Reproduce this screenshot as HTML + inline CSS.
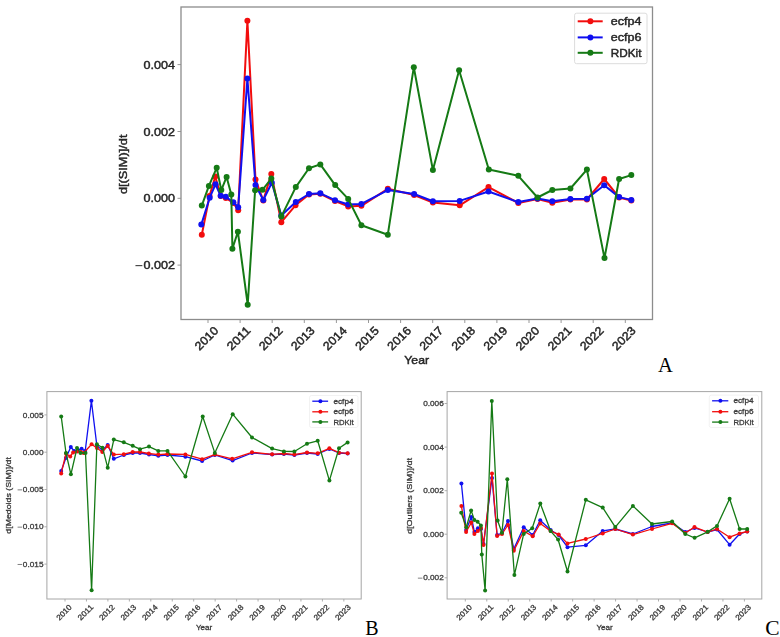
<!DOCTYPE html>
<html><head><meta charset="utf-8"><title>d[SIM]/dt</title>
<style>html,body{margin:0;padding:0;background:#fff;}body{width:780px;height:637px;overflow:hidden;}svg{display:block;font-family:"Liberation Sans",sans-serif;filter:blur(0.35px);}.ta{filter:url(#fA);}.tb{filter:url(#fB);}.ta text,.ta .mn{fill:#262626;stroke:#262626;stroke-width:0.45px;}.ta .mn{stroke-width:1px;}.tb text,.tb .mn{fill:#3a3a3a;stroke:#3a3a3a;stroke-width:0.3px;}.tb .mn{stroke-width:0.7px;}.serif{font-family:"Liberation Serif",serif;fill:#000;}</style></head><body>
<svg width="780" height="637" viewBox="0 0 780 637">
<defs><filter id="fA" x="-5%" y="-5%" width="110%" height="110%"><feGaussianBlur stdDeviation="0.3"/></filter><filter id="fB" x="-5%" y="-5%" width="110%" height="110%"><feGaussianBlur stdDeviation="0.45"/></filter></defs>
<rect width="780" height="637" fill="#fff"/>
<g class="ta">
<line x1="177.5" y1="64.6" x2="181" y2="64.6" style="stroke:#999;stroke-width:1px"/>
<text x="175.03" y="68.61" font-size="11.66" textLength="31.49" lengthAdjust="spacingAndGlyphs" text-anchor="end">0.004</text>
<line x1="177.5" y1="131.5" x2="181" y2="131.5" style="stroke:#999;stroke-width:1px"/>
<text x="175.03" y="135.51" font-size="11.66" textLength="31.49" lengthAdjust="spacingAndGlyphs" text-anchor="end">0.002</text>
<line x1="177.5" y1="198.3" x2="181" y2="198.3" style="stroke:#999;stroke-width:1px"/>
<text x="175.03" y="202.31" font-size="11.66" textLength="31.49" lengthAdjust="spacingAndGlyphs" text-anchor="end">0.000</text>
<line x1="177.5" y1="265.1" x2="181" y2="265.1" style="stroke:#999;stroke-width:1px"/>
<text x="175.03" y="269.11" font-size="11.66" textLength="31.49" lengthAdjust="spacingAndGlyphs" text-anchor="end">0.002</text>
<line x1="135.48" y1="265.66" x2="142.37" y2="265.66" class="mn" style="stroke-width:0.99px"/>
<line x1="208" y1="319.5" x2="208" y2="323" style="stroke:#999;stroke-width:1px"/>
<line x1="240.1" y1="319.5" x2="240.1" y2="323" style="stroke:#999;stroke-width:1px"/>
<line x1="272.2" y1="319.5" x2="272.2" y2="323" style="stroke:#999;stroke-width:1px"/>
<line x1="304.3" y1="319.5" x2="304.3" y2="323" style="stroke:#999;stroke-width:1px"/>
<line x1="336.4" y1="319.5" x2="336.4" y2="323" style="stroke:#999;stroke-width:1px"/>
<line x1="368.5" y1="319.5" x2="368.5" y2="323" style="stroke:#999;stroke-width:1px"/>
<line x1="400.6" y1="319.5" x2="400.6" y2="323" style="stroke:#999;stroke-width:1px"/>
<line x1="432.7" y1="319.5" x2="432.7" y2="323" style="stroke:#999;stroke-width:1px"/>
<line x1="464.8" y1="319.5" x2="464.8" y2="323" style="stroke:#999;stroke-width:1px"/>
<line x1="496.9" y1="319.5" x2="496.9" y2="323" style="stroke:#999;stroke-width:1px"/>
<line x1="529" y1="319.5" x2="529" y2="323" style="stroke:#999;stroke-width:1px"/>
<line x1="561.1" y1="319.5" x2="561.1" y2="323" style="stroke:#999;stroke-width:1px"/>
<line x1="593.2" y1="319.5" x2="593.2" y2="323" style="stroke:#999;stroke-width:1px"/>
<line x1="625.3" y1="319.5" x2="625.3" y2="323" style="stroke:#999;stroke-width:1px"/>
<text x="0" y="4.01" font-size="11.66" textLength="27.99" lengthAdjust="spacingAndGlyphs" text-anchor="middle" transform="translate(206.5 338.3) rotate(-45)">2010</text>
<text x="0" y="4.01" font-size="11.66" textLength="27.99" lengthAdjust="spacingAndGlyphs" text-anchor="middle" transform="translate(238.6 338.3) rotate(-45)">2011</text>
<text x="0" y="4.01" font-size="11.66" textLength="27.99" lengthAdjust="spacingAndGlyphs" text-anchor="middle" transform="translate(270.7 338.3) rotate(-45)">2012</text>
<text x="0" y="4.01" font-size="11.66" textLength="27.99" lengthAdjust="spacingAndGlyphs" text-anchor="middle" transform="translate(302.8 338.3) rotate(-45)">2013</text>
<text x="0" y="4.01" font-size="11.66" textLength="27.99" lengthAdjust="spacingAndGlyphs" text-anchor="middle" transform="translate(334.9 338.3) rotate(-45)">2014</text>
<text x="0" y="4.01" font-size="11.66" textLength="27.99" lengthAdjust="spacingAndGlyphs" text-anchor="middle" transform="translate(367 338.3) rotate(-45)">2015</text>
<text x="0" y="4.01" font-size="11.66" textLength="27.99" lengthAdjust="spacingAndGlyphs" text-anchor="middle" transform="translate(399.1 338.3) rotate(-45)">2016</text>
<text x="0" y="4.01" font-size="11.66" textLength="27.99" lengthAdjust="spacingAndGlyphs" text-anchor="middle" transform="translate(431.2 338.3) rotate(-45)">2017</text>
<text x="0" y="4.01" font-size="11.66" textLength="27.99" lengthAdjust="spacingAndGlyphs" text-anchor="middle" transform="translate(463.3 338.3) rotate(-45)">2018</text>
<text x="0" y="4.01" font-size="11.66" textLength="27.99" lengthAdjust="spacingAndGlyphs" text-anchor="middle" transform="translate(495.4 338.3) rotate(-45)">2019</text>
<text x="0" y="4.01" font-size="11.66" textLength="27.99" lengthAdjust="spacingAndGlyphs" text-anchor="middle" transform="translate(527.5 338.3) rotate(-45)">2020</text>
<text x="0" y="4.01" font-size="11.66" textLength="27.99" lengthAdjust="spacingAndGlyphs" text-anchor="middle" transform="translate(559.6 338.3) rotate(-45)">2021</text>
<text x="0" y="4.01" font-size="11.66" textLength="27.99" lengthAdjust="spacingAndGlyphs" text-anchor="middle" transform="translate(591.7 338.3) rotate(-45)">2022</text>
<text x="0" y="4.01" font-size="11.66" textLength="27.99" lengthAdjust="spacingAndGlyphs" text-anchor="middle" transform="translate(623.8 338.3) rotate(-45)">2023</text>
<text x="416.7" y="364.3" font-size="11.66" textLength="24.75" lengthAdjust="spacingAndGlyphs" text-anchor="middle">Year</text>
<text x="0" y="0" font-size="11.66" textLength="59.5" lengthAdjust="spacingAndGlyphs" text-anchor="middle" transform="translate(126.9 164.3) rotate(-90)">d[(SIM)]/dt</text>
</g>
<g clip-path="url(#cA)">
<polyline points="201.8,234.8 209.5,196 215.3,176.5 220.7,196 225.8,198 233.3,203 238.2,210.2 247.4,20.7 255.5,179.6 263.3,200.5 271.3,173.9 281.3,222.2 295.5,205.3 309,194.5 320.3,193.8 335,201 348.2,206.4 361.4,205.8 387.8,188.8 414.1,195 432.9,202.5 459.7,205.3 488.5,187.1 518.3,203 537.5,199 552.3,202.8 570.4,199.5 586.9,199.5 604.2,179 619.1,197.5 631.3,200.5" style="fill:none;stroke:#f20d0d;stroke-width:2px;stroke-linejoin:round;stroke-linecap:round"/>
<circle cx="201.8" cy="234.8" r="3" style="fill:#f20d0d;stroke:none"/>
<circle cx="209.5" cy="196" r="3" style="fill:#f20d0d;stroke:none"/>
<circle cx="215.3" cy="176.5" r="3" style="fill:#f20d0d;stroke:none"/>
<circle cx="220.7" cy="196" r="3" style="fill:#f20d0d;stroke:none"/>
<circle cx="225.8" cy="198" r="3" style="fill:#f20d0d;stroke:none"/>
<circle cx="233.3" cy="203" r="3" style="fill:#f20d0d;stroke:none"/>
<circle cx="238.2" cy="210.2" r="3" style="fill:#f20d0d;stroke:none"/>
<circle cx="247.4" cy="20.7" r="3" style="fill:#f20d0d;stroke:none"/>
<circle cx="255.5" cy="179.6" r="3" style="fill:#f20d0d;stroke:none"/>
<circle cx="263.3" cy="200.5" r="3" style="fill:#f20d0d;stroke:none"/>
<circle cx="271.3" cy="173.9" r="3" style="fill:#f20d0d;stroke:none"/>
<circle cx="281.3" cy="222.2" r="3" style="fill:#f20d0d;stroke:none"/>
<circle cx="295.5" cy="205.3" r="3" style="fill:#f20d0d;stroke:none"/>
<circle cx="309" cy="194.5" r="3" style="fill:#f20d0d;stroke:none"/>
<circle cx="320.3" cy="193.8" r="3" style="fill:#f20d0d;stroke:none"/>
<circle cx="335" cy="201" r="3" style="fill:#f20d0d;stroke:none"/>
<circle cx="348.2" cy="206.4" r="3" style="fill:#f20d0d;stroke:none"/>
<circle cx="361.4" cy="205.8" r="3" style="fill:#f20d0d;stroke:none"/>
<circle cx="387.8" cy="188.8" r="3" style="fill:#f20d0d;stroke:none"/>
<circle cx="414.1" cy="195" r="3" style="fill:#f20d0d;stroke:none"/>
<circle cx="432.9" cy="202.5" r="3" style="fill:#f20d0d;stroke:none"/>
<circle cx="459.7" cy="205.3" r="3" style="fill:#f20d0d;stroke:none"/>
<circle cx="488.5" cy="187.1" r="3" style="fill:#f20d0d;stroke:none"/>
<circle cx="518.3" cy="203" r="3" style="fill:#f20d0d;stroke:none"/>
<circle cx="537.5" cy="199" r="3" style="fill:#f20d0d;stroke:none"/>
<circle cx="552.3" cy="202.8" r="3" style="fill:#f20d0d;stroke:none"/>
<circle cx="570.4" cy="199.5" r="3" style="fill:#f20d0d;stroke:none"/>
<circle cx="586.9" cy="199.5" r="3" style="fill:#f20d0d;stroke:none"/>
<circle cx="604.2" cy="179" r="3" style="fill:#f20d0d;stroke:none"/>
<circle cx="619.1" cy="197.5" r="3" style="fill:#f20d0d;stroke:none"/>
<circle cx="631.3" cy="200.5" r="3" style="fill:#f20d0d;stroke:none"/>
<polyline points="201.3,224.6 209.7,197.7 215.5,184.3 220.7,195.8 225.8,196.7 233.3,202.3 238.2,207.3 247.4,78.5 255.5,185.1 263.3,200 271.8,182.7 281.3,215.5 295.8,202.1 309,194 320.3,193.3 335,200.2 348.2,204.5 361.4,203.9 387.8,190.1 414.1,194 432.9,201.3 459.7,200.9 488.5,191.5 518.3,202.1 537.5,198.4 552.3,201.2 570.4,199 586.9,198.7 604.2,185.3 619.1,197.1 631.3,199.9" style="fill:none;stroke:#1010f0;stroke-width:2px;stroke-linejoin:round;stroke-linecap:round"/>
<circle cx="201.3" cy="224.6" r="3" style="fill:#1010f0;stroke:none"/>
<circle cx="209.7" cy="197.7" r="3" style="fill:#1010f0;stroke:none"/>
<circle cx="215.5" cy="184.3" r="3" style="fill:#1010f0;stroke:none"/>
<circle cx="220.7" cy="195.8" r="3" style="fill:#1010f0;stroke:none"/>
<circle cx="225.8" cy="196.7" r="3" style="fill:#1010f0;stroke:none"/>
<circle cx="233.3" cy="202.3" r="3" style="fill:#1010f0;stroke:none"/>
<circle cx="238.2" cy="207.3" r="3" style="fill:#1010f0;stroke:none"/>
<circle cx="247.4" cy="78.5" r="3" style="fill:#1010f0;stroke:none"/>
<circle cx="255.5" cy="185.1" r="3" style="fill:#1010f0;stroke:none"/>
<circle cx="263.3" cy="200" r="3" style="fill:#1010f0;stroke:none"/>
<circle cx="271.8" cy="182.7" r="3" style="fill:#1010f0;stroke:none"/>
<circle cx="281.3" cy="215.5" r="3" style="fill:#1010f0;stroke:none"/>
<circle cx="295.8" cy="202.1" r="3" style="fill:#1010f0;stroke:none"/>
<circle cx="309" cy="194" r="3" style="fill:#1010f0;stroke:none"/>
<circle cx="320.3" cy="193.3" r="3" style="fill:#1010f0;stroke:none"/>
<circle cx="335" cy="200.2" r="3" style="fill:#1010f0;stroke:none"/>
<circle cx="348.2" cy="204.5" r="3" style="fill:#1010f0;stroke:none"/>
<circle cx="361.4" cy="203.9" r="3" style="fill:#1010f0;stroke:none"/>
<circle cx="387.8" cy="190.1" r="3" style="fill:#1010f0;stroke:none"/>
<circle cx="414.1" cy="194" r="3" style="fill:#1010f0;stroke:none"/>
<circle cx="432.9" cy="201.3" r="3" style="fill:#1010f0;stroke:none"/>
<circle cx="459.7" cy="200.9" r="3" style="fill:#1010f0;stroke:none"/>
<circle cx="488.5" cy="191.5" r="3" style="fill:#1010f0;stroke:none"/>
<circle cx="518.3" cy="202.1" r="3" style="fill:#1010f0;stroke:none"/>
<circle cx="537.5" cy="198.4" r="3" style="fill:#1010f0;stroke:none"/>
<circle cx="552.3" cy="201.2" r="3" style="fill:#1010f0;stroke:none"/>
<circle cx="570.4" cy="199" r="3" style="fill:#1010f0;stroke:none"/>
<circle cx="586.9" cy="198.7" r="3" style="fill:#1010f0;stroke:none"/>
<circle cx="604.2" cy="185.3" r="3" style="fill:#1010f0;stroke:none"/>
<circle cx="619.1" cy="197.1" r="3" style="fill:#1010f0;stroke:none"/>
<circle cx="631.3" cy="199.9" r="3" style="fill:#1010f0;stroke:none"/>
<polyline points="201.8,205.6 208.9,185.9 216.7,167.8 221.3,190.1 226.6,176.9 231.3,194.4 232.4,248.7 237.9,231.8 247.7,304.7 255.1,190.2 262.5,189.8 271.3,178.5 281.3,216.6 295.8,187.1 309,168.2 320.3,164.4 335.2,185.1 348.2,198.9 361.4,225.3 387.8,234.7 413.8,67.2 432.9,170.1 459.1,70.3 488.8,169.5 518.3,175.8 537.5,197.5 552.3,190 570.4,188.5 586.9,169.6 604.5,258.1 619.1,179 631.3,175.1" style="fill:none;stroke:#157a15;stroke-width:2px;stroke-linejoin:round;stroke-linecap:round"/>
<circle cx="201.8" cy="205.6" r="3" style="fill:#157a15;stroke:none"/>
<circle cx="208.9" cy="185.9" r="3" style="fill:#157a15;stroke:none"/>
<circle cx="216.7" cy="167.8" r="3" style="fill:#157a15;stroke:none"/>
<circle cx="221.3" cy="190.1" r="3" style="fill:#157a15;stroke:none"/>
<circle cx="226.6" cy="176.9" r="3" style="fill:#157a15;stroke:none"/>
<circle cx="231.3" cy="194.4" r="3" style="fill:#157a15;stroke:none"/>
<circle cx="232.4" cy="248.7" r="3" style="fill:#157a15;stroke:none"/>
<circle cx="237.9" cy="231.8" r="3" style="fill:#157a15;stroke:none"/>
<circle cx="247.7" cy="304.7" r="3" style="fill:#157a15;stroke:none"/>
<circle cx="255.1" cy="190.2" r="3" style="fill:#157a15;stroke:none"/>
<circle cx="262.5" cy="189.8" r="3" style="fill:#157a15;stroke:none"/>
<circle cx="271.3" cy="178.5" r="3" style="fill:#157a15;stroke:none"/>
<circle cx="281.3" cy="216.6" r="3" style="fill:#157a15;stroke:none"/>
<circle cx="295.8" cy="187.1" r="3" style="fill:#157a15;stroke:none"/>
<circle cx="309" cy="168.2" r="3" style="fill:#157a15;stroke:none"/>
<circle cx="320.3" cy="164.4" r="3" style="fill:#157a15;stroke:none"/>
<circle cx="335.2" cy="185.1" r="3" style="fill:#157a15;stroke:none"/>
<circle cx="348.2" cy="198.9" r="3" style="fill:#157a15;stroke:none"/>
<circle cx="361.4" cy="225.3" r="3" style="fill:#157a15;stroke:none"/>
<circle cx="387.8" cy="234.7" r="3" style="fill:#157a15;stroke:none"/>
<circle cx="413.8" cy="67.2" r="3" style="fill:#157a15;stroke:none"/>
<circle cx="432.9" cy="170.1" r="3" style="fill:#157a15;stroke:none"/>
<circle cx="459.1" cy="70.3" r="3" style="fill:#157a15;stroke:none"/>
<circle cx="488.8" cy="169.5" r="3" style="fill:#157a15;stroke:none"/>
<circle cx="518.3" cy="175.8" r="3" style="fill:#157a15;stroke:none"/>
<circle cx="537.5" cy="197.5" r="3" style="fill:#157a15;stroke:none"/>
<circle cx="552.3" cy="190" r="3" style="fill:#157a15;stroke:none"/>
<circle cx="570.4" cy="188.5" r="3" style="fill:#157a15;stroke:none"/>
<circle cx="586.9" cy="169.6" r="3" style="fill:#157a15;stroke:none"/>
<circle cx="604.5" cy="258.1" r="3" style="fill:#157a15;stroke:none"/>
<circle cx="619.1" cy="179" r="3" style="fill:#157a15;stroke:none"/>
<circle cx="631.3" cy="175.1" r="3" style="fill:#157a15;stroke:none"/>
</g>
<rect x="181" y="7" width="471.5" height="312.5" style="fill:none;stroke:#8c8c8c;stroke-width:1.3px"/>
<g class="ta">
<rect x="574.6" y="13.2" width="72.4" height="50.5" rx="2" style="fill:#fff;fill-opacity:0.8;stroke:#dcdcdc;stroke-width:1px"/>
<line x1="577.7" y1="21.3" x2="602.7" y2="21.3" style="stroke:#f20d0d;stroke-width:2px"/>
<circle cx="590.4" cy="21.3" r="3" style="fill:#f20d0d;stroke:none"/>
<text x="610.75" y="25.31" font-size="11.66" textLength="30.67" lengthAdjust="spacingAndGlyphs">ecfp4</text>
<line x1="577.7" y1="37.4" x2="602.7" y2="37.4" style="stroke:#1010f0;stroke-width:2px"/>
<circle cx="590.4" cy="37.4" r="3" style="fill:#1010f0;stroke:none"/>
<text x="610.75" y="41.41" font-size="11.66" textLength="30.67" lengthAdjust="spacingAndGlyphs">ecfp6</text>
<line x1="577.7" y1="52.8" x2="602.7" y2="52.8" style="stroke:#157a15;stroke-width:2px"/>
<circle cx="590.4" cy="52.8" r="3" style="fill:#157a15;stroke:none"/>
<text x="610.75" y="56.81" font-size="11.66" textLength="30.7" lengthAdjust="spacingAndGlyphs">RDKit</text>
</g>
<text class="serif" x="658" y="372" font-size="20.5">A</text>
<g class="tb">
<line x1="44.4" y1="414.9" x2="46.9" y2="414.9" style="stroke:#999;stroke-width:0.8px"/>
<text x="43.48" y="417.53" font-size="7.63" textLength="20.61" lengthAdjust="spacingAndGlyphs" text-anchor="end">0.005</text>
<line x1="44.4" y1="452.2" x2="46.9" y2="452.2" style="stroke:#999;stroke-width:0.8px"/>
<text x="43.48" y="454.83" font-size="7.63" textLength="20.61" lengthAdjust="spacingAndGlyphs" text-anchor="end">0.000</text>
<line x1="44.4" y1="489.5" x2="46.9" y2="489.5" style="stroke:#999;stroke-width:0.8px"/>
<text x="43.48" y="492.13" font-size="7.63" textLength="20.61" lengthAdjust="spacingAndGlyphs" text-anchor="end">0.005</text>
<line x1="17.59" y1="489.87" x2="22.1" y2="489.87" class="mn" style="stroke-width:0.65px"/>
<line x1="44.4" y1="526.8" x2="46.9" y2="526.8" style="stroke:#999;stroke-width:0.8px"/>
<text x="43.48" y="529.43" font-size="7.63" textLength="20.61" lengthAdjust="spacingAndGlyphs" text-anchor="end">0.010</text>
<line x1="17.59" y1="527.17" x2="22.1" y2="527.17" class="mn" style="stroke-width:0.65px"/>
<line x1="44.4" y1="564.1" x2="46.9" y2="564.1" style="stroke:#999;stroke-width:0.8px"/>
<text x="43.48" y="566.73" font-size="7.63" textLength="20.61" lengthAdjust="spacingAndGlyphs" text-anchor="end">0.015</text>
<line x1="17.59" y1="564.47" x2="22.1" y2="564.47" class="mn" style="stroke-width:0.65px"/>
<line x1="65" y1="599" x2="65" y2="601.5" style="stroke:#999;stroke-width:0.8px"/>
<line x1="86.45" y1="599" x2="86.45" y2="601.5" style="stroke:#999;stroke-width:0.8px"/>
<line x1="107.9" y1="599" x2="107.9" y2="601.5" style="stroke:#999;stroke-width:0.8px"/>
<line x1="129.35" y1="599" x2="129.35" y2="601.5" style="stroke:#999;stroke-width:0.8px"/>
<line x1="150.8" y1="599" x2="150.8" y2="601.5" style="stroke:#999;stroke-width:0.8px"/>
<line x1="172.25" y1="599" x2="172.25" y2="601.5" style="stroke:#999;stroke-width:0.8px"/>
<line x1="193.7" y1="599" x2="193.7" y2="601.5" style="stroke:#999;stroke-width:0.8px"/>
<line x1="215.15" y1="599" x2="215.15" y2="601.5" style="stroke:#999;stroke-width:0.8px"/>
<line x1="236.6" y1="599" x2="236.6" y2="601.5" style="stroke:#999;stroke-width:0.8px"/>
<line x1="258.05" y1="599" x2="258.05" y2="601.5" style="stroke:#999;stroke-width:0.8px"/>
<line x1="279.5" y1="599" x2="279.5" y2="601.5" style="stroke:#999;stroke-width:0.8px"/>
<line x1="300.95" y1="599" x2="300.95" y2="601.5" style="stroke:#999;stroke-width:0.8px"/>
<line x1="322.4" y1="599" x2="322.4" y2="601.5" style="stroke:#999;stroke-width:0.8px"/>
<line x1="343.85" y1="599" x2="343.85" y2="601.5" style="stroke:#999;stroke-width:0.8px"/>
<text x="0" y="2.63" font-size="7.63" textLength="18.32" lengthAdjust="spacingAndGlyphs" text-anchor="middle" transform="translate(64 612.3) rotate(-45)">2010</text>
<text x="0" y="2.63" font-size="7.63" textLength="18.32" lengthAdjust="spacingAndGlyphs" text-anchor="middle" transform="translate(85.45 612.3) rotate(-45)">2011</text>
<text x="0" y="2.63" font-size="7.63" textLength="18.32" lengthAdjust="spacingAndGlyphs" text-anchor="middle" transform="translate(106.9 612.3) rotate(-45)">2012</text>
<text x="0" y="2.63" font-size="7.63" textLength="18.32" lengthAdjust="spacingAndGlyphs" text-anchor="middle" transform="translate(128.35 612.3) rotate(-45)">2013</text>
<text x="0" y="2.63" font-size="7.63" textLength="18.32" lengthAdjust="spacingAndGlyphs" text-anchor="middle" transform="translate(149.8 612.3) rotate(-45)">2014</text>
<text x="0" y="2.63" font-size="7.63" textLength="18.32" lengthAdjust="spacingAndGlyphs" text-anchor="middle" transform="translate(171.25 612.3) rotate(-45)">2015</text>
<text x="0" y="2.63" font-size="7.63" textLength="18.32" lengthAdjust="spacingAndGlyphs" text-anchor="middle" transform="translate(192.7 612.3) rotate(-45)">2016</text>
<text x="0" y="2.63" font-size="7.63" textLength="18.32" lengthAdjust="spacingAndGlyphs" text-anchor="middle" transform="translate(214.15 612.3) rotate(-45)">2017</text>
<text x="0" y="2.63" font-size="7.63" textLength="18.32" lengthAdjust="spacingAndGlyphs" text-anchor="middle" transform="translate(235.6 612.3) rotate(-45)">2018</text>
<text x="0" y="2.63" font-size="7.63" textLength="18.32" lengthAdjust="spacingAndGlyphs" text-anchor="middle" transform="translate(257.05 612.3) rotate(-45)">2019</text>
<text x="0" y="2.63" font-size="7.63" textLength="18.32" lengthAdjust="spacingAndGlyphs" text-anchor="middle" transform="translate(278.5 612.3) rotate(-45)">2020</text>
<text x="0" y="2.63" font-size="7.63" textLength="18.32" lengthAdjust="spacingAndGlyphs" text-anchor="middle" transform="translate(299.95 612.3) rotate(-45)">2021</text>
<text x="0" y="2.63" font-size="7.63" textLength="18.32" lengthAdjust="spacingAndGlyphs" text-anchor="middle" transform="translate(321.4 612.3) rotate(-45)">2022</text>
<text x="0" y="2.63" font-size="7.63" textLength="18.32" lengthAdjust="spacingAndGlyphs" text-anchor="middle" transform="translate(342.85 612.3) rotate(-45)">2023</text>
<text x="204" y="630.2" font-size="7.63" textLength="16.2" lengthAdjust="spacingAndGlyphs" text-anchor="middle">Year</text>
<text x="0" y="0" font-size="7.63" textLength="76.5" lengthAdjust="spacingAndGlyphs" text-anchor="middle" transform="translate(11.3 495.4) rotate(-90)">d[Medoids (SIM)]/dt</text>
</g>
<polyline points="61.2,471 65.9,458 70.8,447 74.2,451 77.7,450 81.6,448.8 85.2,451 91.4,400.8 96.9,446 102.5,450 107.7,445 113.8,458.8 123.8,455 132.7,453 140,453 149,454.5 158.3,455.8 167.5,455 185.4,456.7 202.1,461 214.8,455 232.6,460.6 252,453 272.1,454.5 283.9,454 294.4,455 307,453 317.7,454 329.4,449 339,453 347.6,453.5" style="fill:none;stroke:#1010f0;stroke-width:1.3px;stroke-linejoin:round;stroke-linecap:round"/>
<circle cx="61.2" cy="471" r="2" style="fill:#1010f0;stroke:none"/>
<circle cx="65.9" cy="458" r="2" style="fill:#1010f0;stroke:none"/>
<circle cx="70.8" cy="447" r="2" style="fill:#1010f0;stroke:none"/>
<circle cx="74.2" cy="451" r="2" style="fill:#1010f0;stroke:none"/>
<circle cx="77.7" cy="450" r="2" style="fill:#1010f0;stroke:none"/>
<circle cx="81.6" cy="448.8" r="2" style="fill:#1010f0;stroke:none"/>
<circle cx="85.2" cy="451" r="2" style="fill:#1010f0;stroke:none"/>
<circle cx="91.4" cy="400.8" r="2" style="fill:#1010f0;stroke:none"/>
<circle cx="96.9" cy="446" r="2" style="fill:#1010f0;stroke:none"/>
<circle cx="102.5" cy="450" r="2" style="fill:#1010f0;stroke:none"/>
<circle cx="107.7" cy="445" r="2" style="fill:#1010f0;stroke:none"/>
<circle cx="113.8" cy="458.8" r="2" style="fill:#1010f0;stroke:none"/>
<circle cx="123.8" cy="455" r="2" style="fill:#1010f0;stroke:none"/>
<circle cx="132.7" cy="453" r="2" style="fill:#1010f0;stroke:none"/>
<circle cx="140" cy="453" r="2" style="fill:#1010f0;stroke:none"/>
<circle cx="149" cy="454.5" r="2" style="fill:#1010f0;stroke:none"/>
<circle cx="158.3" cy="455.8" r="2" style="fill:#1010f0;stroke:none"/>
<circle cx="167.5" cy="455" r="2" style="fill:#1010f0;stroke:none"/>
<circle cx="185.4" cy="456.7" r="2" style="fill:#1010f0;stroke:none"/>
<circle cx="202.1" cy="461" r="2" style="fill:#1010f0;stroke:none"/>
<circle cx="214.8" cy="455" r="2" style="fill:#1010f0;stroke:none"/>
<circle cx="232.6" cy="460.6" r="2" style="fill:#1010f0;stroke:none"/>
<circle cx="252" cy="453" r="2" style="fill:#1010f0;stroke:none"/>
<circle cx="272.1" cy="454.5" r="2" style="fill:#1010f0;stroke:none"/>
<circle cx="283.9" cy="454" r="2" style="fill:#1010f0;stroke:none"/>
<circle cx="294.4" cy="455" r="2" style="fill:#1010f0;stroke:none"/>
<circle cx="307" cy="453" r="2" style="fill:#1010f0;stroke:none"/>
<circle cx="317.7" cy="454" r="2" style="fill:#1010f0;stroke:none"/>
<circle cx="329.4" cy="449" r="2" style="fill:#1010f0;stroke:none"/>
<circle cx="339" cy="453" r="2" style="fill:#1010f0;stroke:none"/>
<circle cx="347.6" cy="453.5" r="2" style="fill:#1010f0;stroke:none"/>
<polyline points="61.2,473.5 66,453.5 70.2,456.5 73.1,452.4 77.2,451.4 80.8,452 83.6,453 91.6,444.2 96.9,448 102.3,452 107.7,446 113.8,454.6 123.8,454.2 132.7,452 140,452 148.8,453.5 158.3,454.6 167.5,454 185.4,454.4 202.1,459.2 214.8,454.6 232.2,458.8 252,452.3 272.1,454.3 283.9,453.5 294.4,454.6 307,452.5 317.7,453.3 329.4,448.3 339,452.7 347.6,453.3" style="fill:none;stroke:#f20d0d;stroke-width:1.3px;stroke-linejoin:round;stroke-linecap:round"/>
<circle cx="61.2" cy="473.5" r="2" style="fill:#f20d0d;stroke:none"/>
<circle cx="66" cy="453.5" r="2" style="fill:#f20d0d;stroke:none"/>
<circle cx="70.2" cy="456.5" r="2" style="fill:#f20d0d;stroke:none"/>
<circle cx="73.1" cy="452.4" r="2" style="fill:#f20d0d;stroke:none"/>
<circle cx="77.2" cy="451.4" r="2" style="fill:#f20d0d;stroke:none"/>
<circle cx="80.8" cy="452" r="2" style="fill:#f20d0d;stroke:none"/>
<circle cx="83.6" cy="453" r="2" style="fill:#f20d0d;stroke:none"/>
<circle cx="91.6" cy="444.2" r="2" style="fill:#f20d0d;stroke:none"/>
<circle cx="96.9" cy="448" r="2" style="fill:#f20d0d;stroke:none"/>
<circle cx="102.3" cy="452" r="2" style="fill:#f20d0d;stroke:none"/>
<circle cx="107.7" cy="446" r="2" style="fill:#f20d0d;stroke:none"/>
<circle cx="113.8" cy="454.6" r="2" style="fill:#f20d0d;stroke:none"/>
<circle cx="123.8" cy="454.2" r="2" style="fill:#f20d0d;stroke:none"/>
<circle cx="132.7" cy="452" r="2" style="fill:#f20d0d;stroke:none"/>
<circle cx="140" cy="452" r="2" style="fill:#f20d0d;stroke:none"/>
<circle cx="148.8" cy="453.5" r="2" style="fill:#f20d0d;stroke:none"/>
<circle cx="158.3" cy="454.6" r="2" style="fill:#f20d0d;stroke:none"/>
<circle cx="167.5" cy="454" r="2" style="fill:#f20d0d;stroke:none"/>
<circle cx="185.4" cy="454.4" r="2" style="fill:#f20d0d;stroke:none"/>
<circle cx="202.1" cy="459.2" r="2" style="fill:#f20d0d;stroke:none"/>
<circle cx="214.8" cy="454.6" r="2" style="fill:#f20d0d;stroke:none"/>
<circle cx="232.2" cy="458.8" r="2" style="fill:#f20d0d;stroke:none"/>
<circle cx="252" cy="452.3" r="2" style="fill:#f20d0d;stroke:none"/>
<circle cx="272.1" cy="454.3" r="2" style="fill:#f20d0d;stroke:none"/>
<circle cx="283.9" cy="453.5" r="2" style="fill:#f20d0d;stroke:none"/>
<circle cx="294.4" cy="454.6" r="2" style="fill:#f20d0d;stroke:none"/>
<circle cx="307" cy="452.5" r="2" style="fill:#f20d0d;stroke:none"/>
<circle cx="317.7" cy="453.3" r="2" style="fill:#f20d0d;stroke:none"/>
<circle cx="329.4" cy="448.3" r="2" style="fill:#f20d0d;stroke:none"/>
<circle cx="339" cy="452.7" r="2" style="fill:#f20d0d;stroke:none"/>
<circle cx="347.6" cy="453.3" r="2" style="fill:#f20d0d;stroke:none"/>
<polyline points="61.2,416.4 66,453 70.9,474.3 77,448 80.5,453 85.5,453 91.6,590.3 96.9,444.2 102.5,447.7 107.7,467.7 113.8,439.6 123.8,442.3 132.7,445.8 140,449.2 149,446.6 158.3,450.9 167.5,450.9 185.4,476.5 202.7,416.5 214.8,452.9 232.7,414.2 252,437.5 272.1,448.6 283.9,451.4 294.4,451.5 307,443.7 317.7,440.8 329.4,480.6 339,448.3 347.6,442.4" style="fill:none;stroke:#157a15;stroke-width:1.3px;stroke-linejoin:round;stroke-linecap:round"/>
<circle cx="61.2" cy="416.4" r="2" style="fill:#157a15;stroke:none"/>
<circle cx="66" cy="453" r="2" style="fill:#157a15;stroke:none"/>
<circle cx="70.9" cy="474.3" r="2" style="fill:#157a15;stroke:none"/>
<circle cx="77" cy="448" r="2" style="fill:#157a15;stroke:none"/>
<circle cx="80.5" cy="453" r="2" style="fill:#157a15;stroke:none"/>
<circle cx="85.5" cy="453" r="2" style="fill:#157a15;stroke:none"/>
<circle cx="91.6" cy="590.3" r="2" style="fill:#157a15;stroke:none"/>
<circle cx="96.9" cy="444.2" r="2" style="fill:#157a15;stroke:none"/>
<circle cx="102.5" cy="447.7" r="2" style="fill:#157a15;stroke:none"/>
<circle cx="107.7" cy="467.7" r="2" style="fill:#157a15;stroke:none"/>
<circle cx="113.8" cy="439.6" r="2" style="fill:#157a15;stroke:none"/>
<circle cx="123.8" cy="442.3" r="2" style="fill:#157a15;stroke:none"/>
<circle cx="132.7" cy="445.8" r="2" style="fill:#157a15;stroke:none"/>
<circle cx="140" cy="449.2" r="2" style="fill:#157a15;stroke:none"/>
<circle cx="149" cy="446.6" r="2" style="fill:#157a15;stroke:none"/>
<circle cx="158.3" cy="450.9" r="2" style="fill:#157a15;stroke:none"/>
<circle cx="167.5" cy="450.9" r="2" style="fill:#157a15;stroke:none"/>
<circle cx="185.4" cy="476.5" r="2" style="fill:#157a15;stroke:none"/>
<circle cx="202.7" cy="416.5" r="2" style="fill:#157a15;stroke:none"/>
<circle cx="214.8" cy="452.9" r="2" style="fill:#157a15;stroke:none"/>
<circle cx="232.7" cy="414.2" r="2" style="fill:#157a15;stroke:none"/>
<circle cx="252" cy="437.5" r="2" style="fill:#157a15;stroke:none"/>
<circle cx="272.1" cy="448.6" r="2" style="fill:#157a15;stroke:none"/>
<circle cx="283.9" cy="451.4" r="2" style="fill:#157a15;stroke:none"/>
<circle cx="294.4" cy="451.5" r="2" style="fill:#157a15;stroke:none"/>
<circle cx="307" cy="443.7" r="2" style="fill:#157a15;stroke:none"/>
<circle cx="317.7" cy="440.8" r="2" style="fill:#157a15;stroke:none"/>
<circle cx="329.4" cy="480.6" r="2" style="fill:#157a15;stroke:none"/>
<circle cx="339" cy="448.3" r="2" style="fill:#157a15;stroke:none"/>
<circle cx="347.6" cy="442.4" r="2" style="fill:#157a15;stroke:none"/>
<rect x="46.9" y="391.6" width="314.3" height="207.4" style="fill:none;stroke:#a6a6a6;stroke-width:1px"/>
<g class="tb">
<rect x="309.5" y="395.5" width="48.5" height="32" rx="2" style="fill:#fff;fill-opacity:0.8;stroke:#ececec;stroke-width:0.7px"/>
<line x1="312.3" y1="401.2" x2="328.1" y2="401.2" style="stroke:#1010f0;stroke-width:1.3px"/>
<circle cx="320.4" cy="401.2" r="2" style="fill:#1010f0;stroke:none"/>
<text x="333.44" y="403.82" font-size="7.63" textLength="20.07" lengthAdjust="spacingAndGlyphs">ecfp4</text>
<line x1="312.3" y1="411.8" x2="328.1" y2="411.8" style="stroke:#f20d0d;stroke-width:1.3px"/>
<circle cx="320.4" cy="411.8" r="2" style="fill:#f20d0d;stroke:none"/>
<text x="333.44" y="414.42" font-size="7.63" textLength="20.07" lengthAdjust="spacingAndGlyphs">ecfp6</text>
<line x1="312.3" y1="421.9" x2="328.1" y2="421.9" style="stroke:#157a15;stroke-width:1.3px"/>
<circle cx="320.4" cy="421.9" r="2" style="fill:#157a15;stroke:none"/>
<text x="333.44" y="424.52" font-size="7.63" textLength="20.09" lengthAdjust="spacingAndGlyphs">RDKit</text>
</g>
<text class="serif" x="365.2" y="634.6" font-size="20">B</text>
<g class="tb">
<line x1="444.6" y1="403.5" x2="447.1" y2="403.5" style="stroke:#999;stroke-width:0.8px"/>
<text x="443.78" y="406.13" font-size="7.63" textLength="20.61" lengthAdjust="spacingAndGlyphs" text-anchor="end">0.006</text>
<line x1="444.6" y1="447.1" x2="447.1" y2="447.1" style="stroke:#999;stroke-width:0.8px"/>
<text x="443.78" y="449.73" font-size="7.63" textLength="20.61" lengthAdjust="spacingAndGlyphs" text-anchor="end">0.004</text>
<line x1="444.6" y1="490.7" x2="447.1" y2="490.7" style="stroke:#999;stroke-width:0.8px"/>
<text x="443.78" y="493.33" font-size="7.63" textLength="20.61" lengthAdjust="spacingAndGlyphs" text-anchor="end">0.002</text>
<line x1="444.6" y1="534.2" x2="447.1" y2="534.2" style="stroke:#999;stroke-width:0.8px"/>
<text x="443.78" y="536.83" font-size="7.63" textLength="20.61" lengthAdjust="spacingAndGlyphs" text-anchor="end">0.000</text>
<line x1="444.6" y1="577.8" x2="447.1" y2="577.8" style="stroke:#999;stroke-width:0.8px"/>
<text x="443.78" y="580.43" font-size="7.63" textLength="20.61" lengthAdjust="spacingAndGlyphs" text-anchor="end">0.002</text>
<line x1="417.89" y1="578.17" x2="422.4" y2="578.17" class="mn" style="stroke-width:0.65px"/>
<line x1="465.3" y1="599" x2="465.3" y2="601.5" style="stroke:#999;stroke-width:0.8px"/>
<line x1="486.77" y1="599" x2="486.77" y2="601.5" style="stroke:#999;stroke-width:0.8px"/>
<line x1="508.24" y1="599" x2="508.24" y2="601.5" style="stroke:#999;stroke-width:0.8px"/>
<line x1="529.71" y1="599" x2="529.71" y2="601.5" style="stroke:#999;stroke-width:0.8px"/>
<line x1="551.18" y1="599" x2="551.18" y2="601.5" style="stroke:#999;stroke-width:0.8px"/>
<line x1="572.65" y1="599" x2="572.65" y2="601.5" style="stroke:#999;stroke-width:0.8px"/>
<line x1="594.12" y1="599" x2="594.12" y2="601.5" style="stroke:#999;stroke-width:0.8px"/>
<line x1="615.59" y1="599" x2="615.59" y2="601.5" style="stroke:#999;stroke-width:0.8px"/>
<line x1="637.06" y1="599" x2="637.06" y2="601.5" style="stroke:#999;stroke-width:0.8px"/>
<line x1="658.53" y1="599" x2="658.53" y2="601.5" style="stroke:#999;stroke-width:0.8px"/>
<line x1="680" y1="599" x2="680" y2="601.5" style="stroke:#999;stroke-width:0.8px"/>
<line x1="701.47" y1="599" x2="701.47" y2="601.5" style="stroke:#999;stroke-width:0.8px"/>
<line x1="722.94" y1="599" x2="722.94" y2="601.5" style="stroke:#999;stroke-width:0.8px"/>
<line x1="744.41" y1="599" x2="744.41" y2="601.5" style="stroke:#999;stroke-width:0.8px"/>
<text x="0" y="2.63" font-size="7.63" textLength="18.32" lengthAdjust="spacingAndGlyphs" text-anchor="middle" transform="translate(464.1 612.3) rotate(-45)">2010</text>
<text x="0" y="2.63" font-size="7.63" textLength="18.32" lengthAdjust="spacingAndGlyphs" text-anchor="middle" transform="translate(485.57 612.3) rotate(-45)">2011</text>
<text x="0" y="2.63" font-size="7.63" textLength="18.32" lengthAdjust="spacingAndGlyphs" text-anchor="middle" transform="translate(507.04 612.3) rotate(-45)">2012</text>
<text x="0" y="2.63" font-size="7.63" textLength="18.32" lengthAdjust="spacingAndGlyphs" text-anchor="middle" transform="translate(528.51 612.3) rotate(-45)">2013</text>
<text x="0" y="2.63" font-size="7.63" textLength="18.32" lengthAdjust="spacingAndGlyphs" text-anchor="middle" transform="translate(549.98 612.3) rotate(-45)">2014</text>
<text x="0" y="2.63" font-size="7.63" textLength="18.32" lengthAdjust="spacingAndGlyphs" text-anchor="middle" transform="translate(571.45 612.3) rotate(-45)">2015</text>
<text x="0" y="2.63" font-size="7.63" textLength="18.32" lengthAdjust="spacingAndGlyphs" text-anchor="middle" transform="translate(592.92 612.3) rotate(-45)">2016</text>
<text x="0" y="2.63" font-size="7.63" textLength="18.32" lengthAdjust="spacingAndGlyphs" text-anchor="middle" transform="translate(614.39 612.3) rotate(-45)">2017</text>
<text x="0" y="2.63" font-size="7.63" textLength="18.32" lengthAdjust="spacingAndGlyphs" text-anchor="middle" transform="translate(635.86 612.3) rotate(-45)">2018</text>
<text x="0" y="2.63" font-size="7.63" textLength="18.32" lengthAdjust="spacingAndGlyphs" text-anchor="middle" transform="translate(657.33 612.3) rotate(-45)">2019</text>
<text x="0" y="2.63" font-size="7.63" textLength="18.32" lengthAdjust="spacingAndGlyphs" text-anchor="middle" transform="translate(678.8 612.3) rotate(-45)">2020</text>
<text x="0" y="2.63" font-size="7.63" textLength="18.32" lengthAdjust="spacingAndGlyphs" text-anchor="middle" transform="translate(700.27 612.3) rotate(-45)">2021</text>
<text x="0" y="2.63" font-size="7.63" textLength="18.32" lengthAdjust="spacingAndGlyphs" text-anchor="middle" transform="translate(721.74 612.3) rotate(-45)">2022</text>
<text x="0" y="2.63" font-size="7.63" textLength="18.32" lengthAdjust="spacingAndGlyphs" text-anchor="middle" transform="translate(743.21 612.3) rotate(-45)">2023</text>
<text x="604.5" y="630.2" font-size="7.63" textLength="16.2" lengthAdjust="spacingAndGlyphs" text-anchor="middle">Year</text>
<text x="0" y="0" font-size="7.63" textLength="76" lengthAdjust="spacingAndGlyphs" text-anchor="middle" transform="translate(412.4 496) rotate(-90)">d[Outliers (SIM)]/dt</text>
</g>
<polyline points="461.4,483.5 466.1,530 471.3,517 474.4,532 477.9,528.2 481,529 483.5,544 492,478 497.1,535 502,533 508,521 513.8,549 523.7,527.3 532.7,535 540.2,520.2 550.6,530 558.6,535 567.5,547.2 585.8,545.3 602.7,530.9 615.3,529 632.9,534 652,526.5 672.1,523 685.3,532 694.5,528 707.6,532 717,529.5 729.6,544.7 739.6,534 747.2,531.5" style="fill:none;stroke:#1010f0;stroke-width:1.3px;stroke-linejoin:round;stroke-linecap:round"/>
<circle cx="461.4" cy="483.5" r="2" style="fill:#1010f0;stroke:none"/>
<circle cx="466.1" cy="530" r="2" style="fill:#1010f0;stroke:none"/>
<circle cx="471.3" cy="517" r="2" style="fill:#1010f0;stroke:none"/>
<circle cx="474.4" cy="532" r="2" style="fill:#1010f0;stroke:none"/>
<circle cx="477.9" cy="528.2" r="2" style="fill:#1010f0;stroke:none"/>
<circle cx="481" cy="529" r="2" style="fill:#1010f0;stroke:none"/>
<circle cx="483.5" cy="544" r="2" style="fill:#1010f0;stroke:none"/>
<circle cx="492" cy="478" r="2" style="fill:#1010f0;stroke:none"/>
<circle cx="497.1" cy="535" r="2" style="fill:#1010f0;stroke:none"/>
<circle cx="502" cy="533" r="2" style="fill:#1010f0;stroke:none"/>
<circle cx="508" cy="521" r="2" style="fill:#1010f0;stroke:none"/>
<circle cx="513.8" cy="549" r="2" style="fill:#1010f0;stroke:none"/>
<circle cx="523.7" cy="527.3" r="2" style="fill:#1010f0;stroke:none"/>
<circle cx="532.7" cy="535" r="2" style="fill:#1010f0;stroke:none"/>
<circle cx="540.2" cy="520.2" r="2" style="fill:#1010f0;stroke:none"/>
<circle cx="550.6" cy="530" r="2" style="fill:#1010f0;stroke:none"/>
<circle cx="558.6" cy="535" r="2" style="fill:#1010f0;stroke:none"/>
<circle cx="567.5" cy="547.2" r="2" style="fill:#1010f0;stroke:none"/>
<circle cx="585.8" cy="545.3" r="2" style="fill:#1010f0;stroke:none"/>
<circle cx="602.7" cy="530.9" r="2" style="fill:#1010f0;stroke:none"/>
<circle cx="615.3" cy="529" r="2" style="fill:#1010f0;stroke:none"/>
<circle cx="632.9" cy="534" r="2" style="fill:#1010f0;stroke:none"/>
<circle cx="652" cy="526.5" r="2" style="fill:#1010f0;stroke:none"/>
<circle cx="672.1" cy="523" r="2" style="fill:#1010f0;stroke:none"/>
<circle cx="685.3" cy="532" r="2" style="fill:#1010f0;stroke:none"/>
<circle cx="694.5" cy="528" r="2" style="fill:#1010f0;stroke:none"/>
<circle cx="707.6" cy="532" r="2" style="fill:#1010f0;stroke:none"/>
<circle cx="717" cy="529.5" r="2" style="fill:#1010f0;stroke:none"/>
<circle cx="729.6" cy="544.7" r="2" style="fill:#1010f0;stroke:none"/>
<circle cx="739.6" cy="534" r="2" style="fill:#1010f0;stroke:none"/>
<circle cx="747.2" cy="531.5" r="2" style="fill:#1010f0;stroke:none"/>
<polyline points="461.4,506.1 466.1,532 471.3,522.6 474.4,533.9 477.9,531.1 481,528 483.5,545 492,473.5 497.1,536 502,534 508,525 513.8,550.8 523.7,531.1 532.7,536.3 540.2,523.5 550.6,531.1 558.6,534.4 567.5,543.4 585.8,539 602.7,533.4 615.3,529 632.9,534.6 652,529 672.1,523.3 685.3,533 694.5,527.1 707.6,532.1 717,529 729.6,537.2 739.6,533.4 747.2,531.5" style="fill:none;stroke:#f20d0d;stroke-width:1.3px;stroke-linejoin:round;stroke-linecap:round"/>
<circle cx="461.4" cy="506.1" r="2" style="fill:#f20d0d;stroke:none"/>
<circle cx="466.1" cy="532" r="2" style="fill:#f20d0d;stroke:none"/>
<circle cx="471.3" cy="522.6" r="2" style="fill:#f20d0d;stroke:none"/>
<circle cx="474.4" cy="533.9" r="2" style="fill:#f20d0d;stroke:none"/>
<circle cx="477.9" cy="531.1" r="2" style="fill:#f20d0d;stroke:none"/>
<circle cx="481" cy="528" r="2" style="fill:#f20d0d;stroke:none"/>
<circle cx="483.5" cy="545" r="2" style="fill:#f20d0d;stroke:none"/>
<circle cx="492" cy="473.5" r="2" style="fill:#f20d0d;stroke:none"/>
<circle cx="497.1" cy="536" r="2" style="fill:#f20d0d;stroke:none"/>
<circle cx="502" cy="534" r="2" style="fill:#f20d0d;stroke:none"/>
<circle cx="508" cy="525" r="2" style="fill:#f20d0d;stroke:none"/>
<circle cx="513.8" cy="550.8" r="2" style="fill:#f20d0d;stroke:none"/>
<circle cx="523.7" cy="531.1" r="2" style="fill:#f20d0d;stroke:none"/>
<circle cx="532.7" cy="536.3" r="2" style="fill:#f20d0d;stroke:none"/>
<circle cx="540.2" cy="523.5" r="2" style="fill:#f20d0d;stroke:none"/>
<circle cx="550.6" cy="531.1" r="2" style="fill:#f20d0d;stroke:none"/>
<circle cx="558.6" cy="534.4" r="2" style="fill:#f20d0d;stroke:none"/>
<circle cx="567.5" cy="543.4" r="2" style="fill:#f20d0d;stroke:none"/>
<circle cx="585.8" cy="539" r="2" style="fill:#f20d0d;stroke:none"/>
<circle cx="602.7" cy="533.4" r="2" style="fill:#f20d0d;stroke:none"/>
<circle cx="615.3" cy="529" r="2" style="fill:#f20d0d;stroke:none"/>
<circle cx="632.9" cy="534.6" r="2" style="fill:#f20d0d;stroke:none"/>
<circle cx="652" cy="529" r="2" style="fill:#f20d0d;stroke:none"/>
<circle cx="672.1" cy="523.3" r="2" style="fill:#f20d0d;stroke:none"/>
<circle cx="685.3" cy="533" r="2" style="fill:#f20d0d;stroke:none"/>
<circle cx="694.5" cy="527.1" r="2" style="fill:#f20d0d;stroke:none"/>
<circle cx="707.6" cy="532.1" r="2" style="fill:#f20d0d;stroke:none"/>
<circle cx="717" cy="529" r="2" style="fill:#f20d0d;stroke:none"/>
<circle cx="729.6" cy="537.2" r="2" style="fill:#f20d0d;stroke:none"/>
<circle cx="739.6" cy="533.4" r="2" style="fill:#f20d0d;stroke:none"/>
<circle cx="747.2" cy="531.5" r="2" style="fill:#f20d0d;stroke:none"/>
<polyline points="461.2,512.8 466.3,527.3 471.1,510.4 474.4,520 477.6,521.7 480.9,525.4 481.8,554.6 485.1,590.4 491.8,400.9 497.6,520.5 501.9,532.8 507.3,479.3 514.4,575.1 523.7,533.9 532.2,528.2 540.3,503.5 550.6,531.1 558.1,539.5 567.5,571.5 585.8,499.8 602.7,507.6 615.3,527.1 632.9,505.9 652,524 672.1,521.5 685.3,534 694.6,537.8 707.7,531.8 717,525.9 729.6,498.8 739.6,529 747.2,529" style="fill:none;stroke:#157a15;stroke-width:1.3px;stroke-linejoin:round;stroke-linecap:round"/>
<circle cx="461.2" cy="512.8" r="2" style="fill:#157a15;stroke:none"/>
<circle cx="466.3" cy="527.3" r="2" style="fill:#157a15;stroke:none"/>
<circle cx="471.1" cy="510.4" r="2" style="fill:#157a15;stroke:none"/>
<circle cx="474.4" cy="520" r="2" style="fill:#157a15;stroke:none"/>
<circle cx="477.6" cy="521.7" r="2" style="fill:#157a15;stroke:none"/>
<circle cx="480.9" cy="525.4" r="2" style="fill:#157a15;stroke:none"/>
<circle cx="481.8" cy="554.6" r="2" style="fill:#157a15;stroke:none"/>
<circle cx="485.1" cy="590.4" r="2" style="fill:#157a15;stroke:none"/>
<circle cx="491.8" cy="400.9" r="2" style="fill:#157a15;stroke:none"/>
<circle cx="497.6" cy="520.5" r="2" style="fill:#157a15;stroke:none"/>
<circle cx="501.9" cy="532.8" r="2" style="fill:#157a15;stroke:none"/>
<circle cx="507.3" cy="479.3" r="2" style="fill:#157a15;stroke:none"/>
<circle cx="514.4" cy="575.1" r="2" style="fill:#157a15;stroke:none"/>
<circle cx="523.7" cy="533.9" r="2" style="fill:#157a15;stroke:none"/>
<circle cx="532.2" cy="528.2" r="2" style="fill:#157a15;stroke:none"/>
<circle cx="540.3" cy="503.5" r="2" style="fill:#157a15;stroke:none"/>
<circle cx="550.6" cy="531.1" r="2" style="fill:#157a15;stroke:none"/>
<circle cx="558.1" cy="539.5" r="2" style="fill:#157a15;stroke:none"/>
<circle cx="567.5" cy="571.5" r="2" style="fill:#157a15;stroke:none"/>
<circle cx="585.8" cy="499.8" r="2" style="fill:#157a15;stroke:none"/>
<circle cx="602.7" cy="507.6" r="2" style="fill:#157a15;stroke:none"/>
<circle cx="615.3" cy="527.1" r="2" style="fill:#157a15;stroke:none"/>
<circle cx="632.9" cy="505.9" r="2" style="fill:#157a15;stroke:none"/>
<circle cx="652" cy="524" r="2" style="fill:#157a15;stroke:none"/>
<circle cx="672.1" cy="521.5" r="2" style="fill:#157a15;stroke:none"/>
<circle cx="685.3" cy="534" r="2" style="fill:#157a15;stroke:none"/>
<circle cx="694.6" cy="537.8" r="2" style="fill:#157a15;stroke:none"/>
<circle cx="707.7" cy="531.8" r="2" style="fill:#157a15;stroke:none"/>
<circle cx="717" cy="525.9" r="2" style="fill:#157a15;stroke:none"/>
<circle cx="729.6" cy="498.8" r="2" style="fill:#157a15;stroke:none"/>
<circle cx="739.6" cy="529" r="2" style="fill:#157a15;stroke:none"/>
<circle cx="747.2" cy="529" r="2" style="fill:#157a15;stroke:none"/>
<rect x="447.1" y="391.6" width="314.7" height="207.4" style="fill:none;stroke:#a6a6a6;stroke-width:1px"/>
<g class="tb">
<rect x="709.3" y="395.1" width="49.2" height="32.4" rx="2" style="fill:#fff;fill-opacity:0.8;stroke:#ececec;stroke-width:0.7px"/>
<line x1="712.1" y1="400.8" x2="728.3" y2="400.8" style="stroke:#1010f0;stroke-width:1.3px"/>
<circle cx="720.4" cy="400.8" r="2" style="fill:#1010f0;stroke:none"/>
<text x="733.44" y="403.42" font-size="7.63" textLength="20.07" lengthAdjust="spacingAndGlyphs">ecfp4</text>
<line x1="712.1" y1="411.7" x2="728.3" y2="411.7" style="stroke:#f20d0d;stroke-width:1.3px"/>
<circle cx="720.4" cy="411.7" r="2" style="fill:#f20d0d;stroke:none"/>
<text x="733.44" y="414.32" font-size="7.63" textLength="20.07" lengthAdjust="spacingAndGlyphs">ecfp6</text>
<line x1="712.1" y1="422.1" x2="728.3" y2="422.1" style="stroke:#157a15;stroke-width:1.3px"/>
<circle cx="720.4" cy="422.1" r="2" style="fill:#157a15;stroke:none"/>
<text x="733.44" y="424.72" font-size="7.63" textLength="20.09" lengthAdjust="spacingAndGlyphs">RDKit</text>
</g>
<text class="serif" x="765.2" y="634.6" font-size="21.5">C</text>
<defs><clipPath id="cA"><rect x="181" y="7" width="471.5" height="312.5"/></clipPath></defs>
</svg></body></html>
